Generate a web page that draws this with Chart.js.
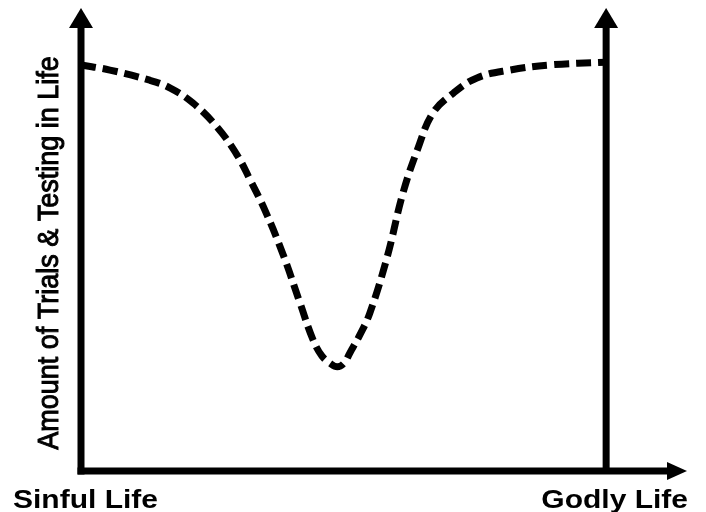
<!DOCTYPE html>
<html lang="en">
<head>
    <meta charset="UTF-8">
    <title>Trials and Testing in Life</title>
    <style>
        body {
            margin: 0;
            padding: 0;
            background-color: #fff;
        }
        #chart {
            display: block;
        }
    </style>
</head>
<body>
    <canvas id="chart" width="706" height="512"></canvas>

    <script src="https://cdn.jsdelivr.net/npm/chart.js"></script>
    <script>
        // position along the way from a sinful life (0) to a godly life (100)
        const lifeX = [0, 5.5, 13.1, 17.0, 21.3, 25.9, 29.7, 32.2, 35.0, 38.5, 41.7, 44.2, 45.9, 47.4, 48.8,
                       50.1, 51.2, 53.1, 55.0, 58.3, 61.3, 64.2, 67.0, 70.9, 75.4, 81.7, 89.3, 100];
        // amount of trials & testing
        const trials = [87.7, 86.6, 84.4, 82.7, 79.5, 74.3, 68.3, 62.9, 56.4, 46.7, 36.3, 28.3, 24.8, 23.3, 22.5,
                        23.3, 25.5, 29.4, 34.1, 46.2, 60.0, 69.8, 77.3, 81.6, 84.9, 86.6, 87.7, 88.3];
        const endLabels = ['Sinful Life', 'Godly Life'];
        const yTitle = 'Amount of Trials & Testing in Life';
        const godlyX = 100;

        function arrowUp(ctx, x, tipY) {
            ctx.beginPath();
            ctx.moveTo(x, tipY);
            ctx.lineTo(x + 12, tipY + 20);
            ctx.lineTo(x - 12, tipY + 20);
            ctx.closePath();
            ctx.fill();
        }

        const axesPlugin = {
            id: 'arrowAxes',
            afterDatasetsDraw(chart) {
                const ctx = chart.ctx;
                const xs = chart.scales.x, ys = chart.scales.y;
                const x0 = xs.getPixelForValue(0);
                const xr = xs.getPixelForValue(godlyX);
                const xEnd = chart.chartArea.right;
                const y0 = ys.getPixelForValue(0);
                const yTop = chart.chartArea.top;

                ctx.save();
                ctx.fillStyle = '#000';
                ctx.strokeStyle = '#000';
                ctx.lineWidth = 7;
                ctx.lineCap = 'butt';

                // left and right uprights
                ctx.beginPath();
                ctx.moveTo(x0, y0 + 3.5);
                ctx.lineTo(x0, yTop + 18);
                ctx.moveTo(xr, y0);
                ctx.lineTo(xr, yTop + 18);
                ctx.stroke();
                arrowUp(ctx, x0, yTop);
                arrowUp(ctx, xr, yTop);

                // horizontal axis
                ctx.beginPath();
                ctx.moveTo(x0 - 3.5, y0);
                ctx.lineTo(xEnd - 18, y0);
                ctx.stroke();
                ctx.beginPath();
                ctx.moveTo(xEnd, y0);
                ctx.lineTo(xEnd - 20, y0 - 9);
                ctx.lineTo(xEnd - 20, y0 + 9);
                ctx.closePath();
                ctx.fill();

                // end labels, slightly wide like the original
                ctx.font = 'bold 25px "Liberation Sans", Arial, sans-serif';
                ctx.textBaseline = 'alphabetic';
                ctx.save();
                ctx.translate(13, 508);
                ctx.scale(1.2, 1);
                ctx.textAlign = 'left';
                ctx.fillText(endLabels[0], 0, 0);
                ctx.restore();
                ctx.save();
                ctx.translate(688, 508);
                ctx.scale(1.2, 1);
                ctx.textAlign = 'right';
                ctx.fillText(endLabels[1], 0, 0);
                ctx.restore();

                // vertical title, a little heavier than regular
                ctx.save();
                ctx.translate(50, 253);
                ctx.rotate(-Math.PI / 2);
                ctx.scale(1, 1.12);
                ctx.font = '27px "Liberation Sans", Arial, sans-serif';
                ctx.textAlign = 'center';
                ctx.textBaseline = 'middle';
                ctx.lineWidth = 0.9;
                ctx.fillText(yTitle, 0, 0);
                ctx.strokeText(yTitle, 0, 0);
                ctx.restore();

                ctx.restore();
            }
        };

        new Chart(document.getElementById('chart'), {
            type: 'line',
            data: {
                datasets: [{
                    data: lifeX.map((x, i) => ({ x: x, y: trials[i] })),
                    borderColor: '#000',
                    borderWidth: 7,
                    borderDash: [15, 7],
                    borderCapStyle: 'butt',
                    tension: 0.4,
                    pointRadius: 0,
                    fill: false,
                    clip: false
                }]
            },
            options: {
                responsive: false,
                animation: false,
                layout: {
                    padding: { left: 81, right: 19, top: 8, bottom: 41 }
                },
                plugins: {
                    legend: { display: false },
                    tooltip: { enabled: false }
                },
                scales: {
                    x: { type: 'linear', min: 0, max: 115.4, display: false },
                    y: { min: 0, max: 100, display: false }
                }
            },
            plugins: [axesPlugin]
        });
    </script>
</body>
</html>
